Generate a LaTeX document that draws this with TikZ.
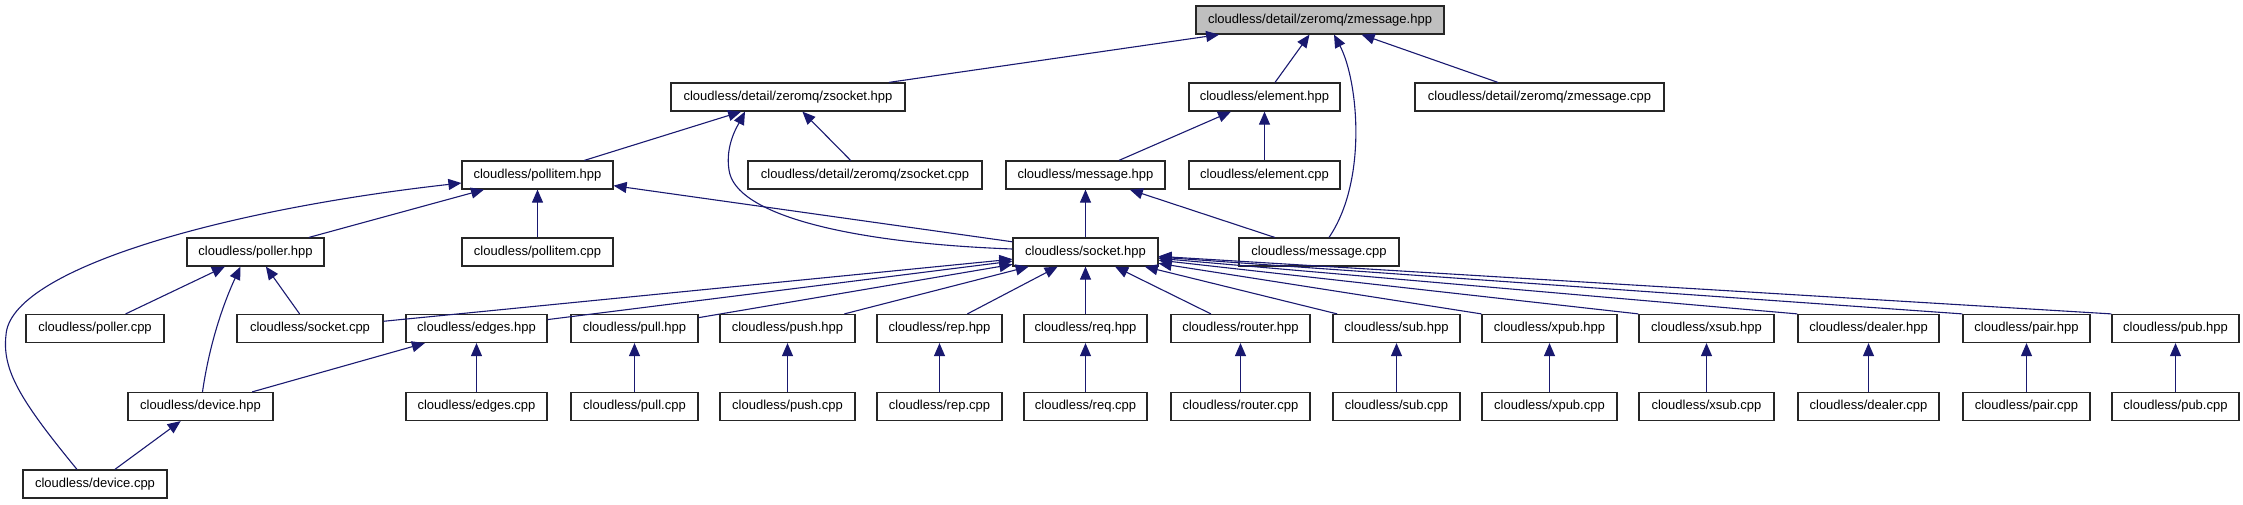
\documentclass[tikz,border=0pt]{standalone}
\usepackage{fontspec}
\setmainfont{Liberation Sans}
\usetikzlibrary{arrows.meta}
\definecolor{edgeblue}{HTML}{191970}
\definecolor{rootgray}{HTML}{BFBFBF}
\begin{document}
\begin{tikzpicture}[x=1pt,y=-1pt,
  file/.style={draw=black!85, line width=1.2pt, fill=white, minimum height=28pt, inner sep=0pt, font=\fontsize{13}{15}\selectfont},
  root/.style={file, fill=rootgray},
  dep/.style={draw=edgeblue, line width=1.1pt, -{Triangle[length=13pt,width=11pt]}}]
\useasboundingbox (0,0) rectangle (2243,504);
% row 0
\node[root, minimum width=248pt] (zmessageH) at (1320,20) {cloudless/detail/zeromq/zmessage.hpp};
% row 1
\node[file, minimum width=234pt] (zsocketH) at (788,97) {cloudless/detail/zeromq/zsocket.hpp};
\node[file, minimum width=151pt] (elementH) at (1264.5,97) {cloudless/element.hpp};
\node[file, minimum width=249pt] (zmessageC) at (1539.5,97) {cloudless/detail/zeromq/zmessage.cpp};
% row 2
\node[file, minimum width=151pt] (pollitemH) at (537.5,175) {cloudless/pollitem.hpp};
\node[file, minimum width=234pt] (zsocketC) at (865,175) {cloudless/detail/zeromq/zsocket.cpp};
\node[file, minimum width=159pt] (messageH) at (1085.5,175) {cloudless/message.hpp};
\node[file, minimum width=151pt] (elementC) at (1264.5,175) {cloudless/element.cpp};
% row 3
\node[file, minimum width=137pt] (pollerH) at (255.5,252) {cloudless/poller.hpp};
\node[file, minimum width=151pt] (pollitemC) at (537.5,252) {cloudless/pollitem.cpp};
\node[file, minimum width=145pt] (socketH) at (1085.5,252) {cloudless/socket.hpp};
\node[file, minimum width=160pt] (messageC) at (1319,252) {cloudless/message.cpp};
% row 4
\node[file, minimum width=138pt] (pollerC) at (95,328.5) {cloudless/poller.cpp};
\node[file, minimum width=146pt] (socketC) at (310,328.5) {cloudless/socket.cpp};
\node[file, minimum width=141pt] (edgesH) at (476.5,328.5) {cloudless/edges.hpp};
% row 5
\node[file, minimum width=145pt] (deviceH) at (200.5,406.5) {cloudless/device.hpp};
\node[file, minimum width=141pt] (edgesC) at (476.5,406.5) {cloudless/edges.cpp};
% row 6
\node[file, minimum width=144pt] (deviceC) at (95,484) {cloudless/device.cpp};

% socket variants (near)
\foreach \n/\x/\w in {pull/634.5/127, push/787.5/135, rep/939.5/125, req/1085.5/123, router/1240.5/139, sub/1396.5/127}{
  \node[file, minimum width=\w pt] (\n H) at (\x,328.5) {cloudless/\n.hpp};
  \node[file, minimum width=\w pt] (\n C) at (\x,406.5) {cloudless/\n.cpp};
  \draw[dep] (\n C) -- (\n H);
  \draw[dep] (\n H) -- (socketH);
}
% socket variants (far)
\foreach \n/\x/\w in {xpub/1549.5/135, xsub/1706.5/135, dealer/1868.5/141, pair/2026.5/127, pub/2175.5/127}{
  \node[file, minimum width=\w pt] (\n H) at (\x,328.5) {cloudless/\n.hpp};
  \node[file, minimum width=\w pt] (\n C) at (\x,406.5) {cloudless/\n.cpp};
  \draw[dep] (\n C) -- (\n H);
  \draw[dep] (\n H.north west) -- (socketH);
}

% edges
\draw[dep] (zsocketH) -- (zmessageH);
\draw[dep] (elementH) -- (zmessageH);
\draw[dep] (zmessageC) -- (zmessageH);
\draw[dep] ([xshift=10pt]messageC.north) .. controls (1368,180) and (1358,80) .. ([xshift=14pt]zmessageH.south);
\draw[dep] (pollitemH) -- (zsocketH);
\draw[dep] (zsocketC) -- (zsocketH);
\draw[dep] ([yshift=3pt]socketH.west) .. controls (850,243) and (735,215) .. (729,170) .. controls (725,145) and (738,125) .. ([xshift=-43pt]zsocketH.south);
\draw[dep] (messageH) -- (elementH);
\draw[dep] (elementC) -- (elementH);
\draw[dep] (pollerH) -- (pollitemH);
\draw[dep] (pollitemC) -- (pollitemH);
\draw[dep] (socketH) -- (pollitemH);
\draw[dep] ([xshift=-18pt]deviceC.north) .. controls (20,400) and (2,370) .. (6,335) .. controls (10,270) and (220,210) .. ([yshift=-8pt]pollitemH.west);
\draw[dep] (socketH) -- (messageH);
\draw[dep] (messageC) -- (messageH);
\draw[dep] (pollerC) -- (pollerH);
\draw[dep] (socketC) -- (pollerH);
\draw[dep] ([xshift=2pt]deviceH.north) .. controls (210,340) and (225,300) .. ([xshift=-15pt]pollerH.south);
\draw[dep] (socketC) -- (socketH);
\draw[dep] (edgesH) -- (socketH);
\draw[dep] (deviceH) -- (edgesH);
\draw[dep] (edgesC) -- (edgesH);
\draw[dep] (deviceC) -- (deviceH);
\end{tikzpicture}
\end{document}
